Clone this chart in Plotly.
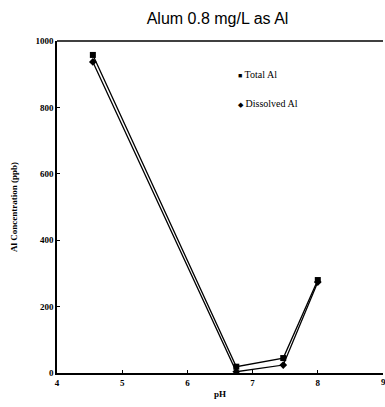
import plotly.graph_objects as go

ph = [4.55, 6.75, 7.47, 8.0]
total_al = [958, 19, 45, 280]
dissolved_al = [937, 4, 24, 274]
series_names = ["Total Al", "Dissolved Al"]
x_ticks = [4, 5, 6, 7, 8]
y_ticks = [0, 200, 400, 600, 800, 1000]

serif = "Liberation Serif, Times New Roman"

fig = go.Figure()
fig.add_trace(go.Scatter(x=ph, y=total_al, name=series_names[0], mode="lines+markers",
                         line=dict(color="black", width=1.3), showlegend=False,
                         marker=dict(symbol="square", size=6, color="black")))
fig.add_trace(go.Scatter(x=ph, y=dissolved_al, name=series_names[1], mode="lines+markers",
                         line=dict(color="black", width=1.3), showlegend=False,
                         marker=dict(symbol="diamond", size=6, color="black")))

fig.update_layout(
    width=385, height=407,
    margin=dict(l=57, r=2, t=41, b=34),
    paper_bgcolor="white", plot_bgcolor="white",
    title=dict(text="Alum 0.8 mg/L as Al", x=0.565, xanchor="center", y=0.955, yanchor="middle",
               font=dict(family="Liberation Sans, Arial", size=16, color="black")),
    showlegend=False,
)
# legend drawn as text entries
fig.add_annotation(xref="paper", yref="paper", x=0.55, y=0.9, xanchor="left", yanchor="middle",
                   text="<span style='font-size:7px'>■</span> " + series_names[0], showarrow=False,
                   font=dict(family=serif, size=10, color="black"))
fig.add_annotation(xref="paper", yref="paper", x=0.55, y=0.813, xanchor="left", yanchor="middle",
                   text="<span style='font-size:7px'>◆</span> " + series_names[1], showarrow=False,
                   font=dict(family=serif, size=10, color="black"))
# last x tick label at the cut-off right edge
fig.add_annotation(xref="x", yref="paper", x=9, y=0, yanchor="top", yshift=-2,
                   text="<b>9</b>", showarrow=False,
                   font=dict(family=serif, size=9, color="black"))

fig.update_xaxes(range=[4, 9], tickvals=x_ticks, ticktext=["<b>%d</b>" % v for v in x_ticks],
                 ticks="inside", ticklen=3, tickcolor="black",
                 showline=True, linecolor="black", linewidth=1.5, mirror=False,
                 showgrid=False, zeroline=False,
                 tickfont=dict(family=serif, size=9, color="black"),
                 title=dict(text="<b>pH</b>", font=dict(family=serif, size=9, color="black"), standoff=4))
fig.update_yaxes(range=[0, 1000], tickvals=y_ticks, ticktext=["<b>%d</b>" % v for v in y_ticks],
                 ticks="inside", ticklen=3, tickcolor="black",
                 showline=True, linecolor="black", linewidth=1.5,
                 showgrid=False, zeroline=False,
                 tickfont=dict(family=serif, size=9, color="black"),
                 title=dict(text="<b>Al Concentration (ppb)</b>", font=dict(family=serif, size=9, color="black"), standoff=16))
fig.add_shape(type="line", xref="paper", yref="paper", x0=0, x1=1, y0=1, y1=1,
              line=dict(color="black", width=1.5))
fig.write_html("out.html")
